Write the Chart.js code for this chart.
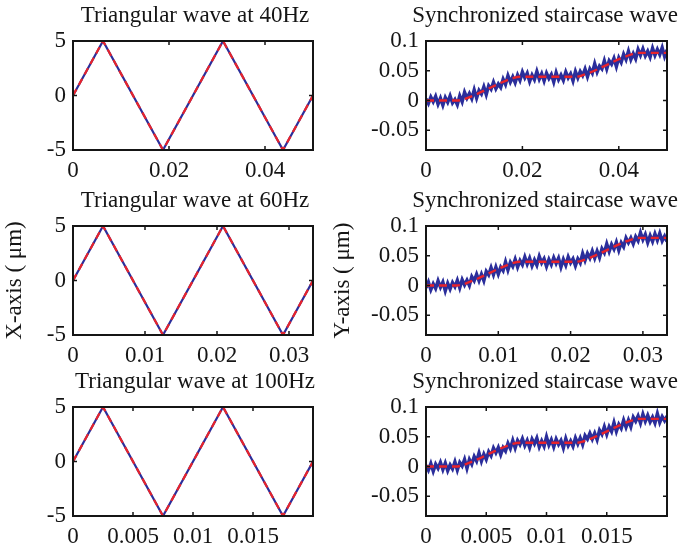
<!DOCTYPE html>
<html>
<head>
<meta charset="utf-8">
<title>Triangular wave / synchronized staircase wave</title>
<script src="https://cdn.jsdelivr.net/npm/chart.js"></script>
<style>
  html, body { margin: 0; padding: 0; background: #fff; overflow: hidden; }
  body { width: 679px; height: 550px; position: relative; }
  canvas { position: absolute; }
</style>
</head>
<body>
<canvas id="tri40" width="390" height="180" style="left:0;top:0"></canvas>
<canvas id="tri60" width="390" height="180" style="left:0;top:185px"></canvas>
<canvas id="tri100" width="390" height="180" style="left:0;top:366px"></canvas>
<canvas id="stair40" width="450" height="180" style="left:320px;top:0"></canvas>
<canvas id="stair60" width="450" height="180" style="left:320px;top:185px"></canvas>
<canvas id="stair100" width="450" height="180" style="left:320px;top:366px"></canvas>

<script>
const FONT = "'Liberation Serif', 'Times New Roman', serif";
const BLUE = '#2b2e9b';
const RED = '#e8232b';
const INK = '#151515';

// triangular command waves (vertices)
const tri40T = [0, 0.00625, 0.01875, 0.03125, 0.04375, 0.05];
const tri60T = [0, 0.0041667, 0.0125, 0.0208333, 0.0291667, 0.0333333];
const tri100T = [0, 0.0025, 0.0075, 0.0125, 0.0175, 0.02];
const triV = [0, 5, -5, 5, -5, 0];

// staircase reference (red dashed)
const stair40T = [0, 0.0064, 0.0077, 0.0182, 0.0195, 0.031, 0.0323, 0.0428, 0.0441, 0.05];
const stair60T = [0, 0.0042, 0.0051, 0.0121, 0.013, 0.0207, 0.0216, 0.0286, 0.0295, 0.0333333];
const stair100T = [0, 0.0025, 0.003, 0.0072, 0.0078, 0.0125, 0.013, 0.0172, 0.0177, 0.02];
const stairRef = [0, 0, 0.002, 0.038, 0.04, 0.04, 0.042, 0.078, 0.08, 0.08];

// measured staircase (blue), one value per sample
const meas40Step = 0.0005;
const meas40 = [
  .003,-.005,.006,-.002,.007,-.006,.004,-.008,.005,-.003,
  .008,-.004,.002,-.007,.008,-.002,.014,.004,.012,.003,
  .018,.004,.017,.011,.023,.010,.025,.019,.031,.020,
  .028,.022,.036,.027,.042,.031,.040,.030,.043,.034,
  .048,.038,.046,.032,.043,.035,.049,.036,.045,.033,
  .046,.037,.044,.031,.047,.035,.043,.034,.048,.038,
  .045,.033,.049,.038,.049,.042,.053,.040,.053,.046,
  .062,.048,.058,.053,.067,.053,.067,.061,.071,.057,
  .072,.064,.078,.069,.083,.069,.079,.070,.086,.076,
  .087,.075,.083,.073,.088,.076,.086,.077,.089,.074,
  .085
];
const meas60Step = 0.000333333;
const meas60 = [
  -.004,.006,-.007,.003,-.005,.008,-.003,.006,-.009,.004,
  -.006,.005,-.002,.009,-.004,.010,.001,.009,.000,.015,
  .008,.019,.008,.019,.008,.024,.018,.030,.018,.031,
  .019,.031,.025,.040,.026,.039,.032,.044,.031,.042,
  .035,.048,.036,.046,.033,.043,.034,.049,.038,.045,
  .032,.044,.035,.047,.037,.046,.031,.044,.034,.048,
  .038,.045,.033,.045,.038,.054,.042,.054,.046,.058,
  .046,.058,.047,.062,.055,.070,.057,.069,.061,.073,
  .059,.072,.065,.080,.072,.080,.070,.082,.075,.089,
  .077,.086,.072,.084,.074,.087,.076,.088,.075,.083,
  .074
];
const meas100Step = 0.0002;
const meas100 = [
  .002,-.006,.005,-.008,.004,-.003,.007,-.005,.006,-.007,
  .003,-.004,.008,-.006,.007,.001,.012,-.003,.012,.004,
  .017,.009,.023,.009,.021,.012,.025,.018,.031,.023,
  .032,.020,.032,.026,.039,.030,.044,.031,.044,.037,
  .047,.035,.044,.032,.046,.038,.048,.033,.043,.034,
  .050,.036,.045,.033,.046,.037,.044,.031,.047,.035,
  .043,.034,.048,.038,.048,.037,.052,.046,.056,.046,
  .056,.045,.061,.054,.067,.054,.067,.059,.074,.059,
  .071,.064,.078,.066,.078,.067,.083,.076,.085,.073,
  .088,.076,.086,.075,.083,.073,.089,.074,.084,.077,
  .085
];

// ticks
const triTicksY = [-5, 0, 5];
const triTickLabelsY = ['-5', '0', '5'];
const stairTicksY = [-0.05, 0, 0.05, 0.1];
const stairTickLabelsY = ['-0.05', '0', '0.05', '0.1'];
const ticks40 = [0, 0.02, 0.04];
const tickLabels40 = ['0', '0.02', '0.04'];
const ticks60 = [0, 0.01, 0.02, 0.03];
const tickLabels60 = ['0', '0.01', '0.02', '0.03'];
const ticks100 = [0, 0.005, 0.01, 0.015];
const tickLabels100 = ['0', '0.005', '0.01', '0.015'];

const pts = (xs, ys) => xs.map((x, i) => ({ x, y: ys[i] }));
const sampled = (step, ys) => ys.map((y, i) => ({ x: i * step, y }));

// matlab style box with inward ticks
const boxPlugin = {
  id: 'mbox',
  afterDatasetsDraw(chart) {
    const { ctx, chartArea: a, scales: { x, y } } = chart;
    ctx.save();
    ctx.strokeStyle = INK;
    ctx.lineWidth = 1.5;
    ctx.beginPath();
    x.ticks.forEach(t => {
      const px = x.getPixelForValue(t.value);
      ctx.moveTo(px, a.bottom); ctx.lineTo(px, a.bottom - 4);
      ctx.moveTo(px, a.top); ctx.lineTo(px, a.top + 4);
    });
    y.ticks.forEach(t => {
      const py = y.getPixelForValue(t.value);
      ctx.moveTo(a.left, py); ctx.lineTo(a.left + 4, py);
      ctx.moveTo(a.right, py); ctx.lineTo(a.right - 4, py);
    });
    ctx.stroke();
    ctx.lineWidth = 2;
    ctx.strokeRect(a.left, a.top, a.right - a.left, a.bottom - a.top);
    ctx.restore();
  }
};

function makeChart(id, o) {
  new Chart(document.getElementById(id), {
    type: 'line',
    data: { datasets: o.datasets },
    options: {
      responsive: false,
      animation: false,
      events: [],
      layout: { padding: 0 },
      elements: { point: { radius: 0 } },
      plugins: {
        legend: { display: false },
        tooltip: { enabled: false },
        title: {
          display: true,
          text: o.title,
          color: INK,
          font: { family: FONT, size: 23, weight: 'normal' },
          padding: { top: 2.2, bottom: 11.2 }
        }
      },
      scales: {
        x: {
          type: 'linear',
          min: 0,
          max: o.xMax,
          grid: { display: false, drawTicks: false },
          border: { display: false },
          afterBuildTicks: s => { s.ticks = o.xTicks.map(v => ({ value: v })); },
          afterFit: s => { s.height = 30; },
          ticks: {
            padding: 7, autoSkip: false, maxRotation: 0, color: INK,
            font: { family: FONT, size: 23 },
            callback: (v, i) => o.xLabels[i]
          }
        },
        y: {
          type: 'linear',
          min: o.yMin,
          max: o.yMax,
          grid: { display: false, drawTicks: false },
          border: { display: false },
          afterBuildTicks: s => { s.ticks = o.yTicks.map(v => ({ value: v })); },
          afterFit: s => { s.width = o.yWidth; },
          title: {
            display: !!o.yTitle,
            text: o.yTitle || '',
            color: INK,
            font: { family: FONT, size: 23 },
            padding: { top: o.yTitlePad || 0, bottom: 0 }
          },
          ticks: {
            padding: 7, autoSkip: false, color: INK,
            font: { family: FONT, size: 23 },
            callback: (v, i) => o.yLabels[i]
          }
        },
        // empty right-hand box so the title centres over the plot
        spacer: {
          type: 'linear',
          position: 'right',
          grid: { display: false, drawTicks: false },
          border: { display: false },
          ticks: { display: false },
          afterFit: s => { s.width = o.padRight; }
        }
      }
    },
    plugins: [boxPlugin]
  });
}

function triSets(t) {
  return [
    { data: pts(t, triV), borderColor: RED, borderWidth: 2.2, borderDash: [7, 5], order: 0 },
    { data: pts(t, triV), borderColor: BLUE, borderWidth: 2.2, order: 1 }
  ];
}
function stairSets(t, step, meas) {
  return [
    { data: pts(t, stairRef), borderColor: RED, borderWidth: 2.4, borderDash: [8, 5],
      cubicInterpolationMode: 'monotone', order: 0 },
    { data: sampled(step, meas), borderColor: BLUE, borderWidth: 3.4, order: 1 }
  ];
}

const triCommon = { yMin: -5, yMax: 5, yTicks: triTicksY, yLabels: triTickLabelsY, yWidth: 73, padRight: 77 };
const stairCommon = { yMin: -0.083, yMax: 0.1, yTicks: stairTicksY, yLabels: stairTickLabelsY, yWidth: 106, padRight: 103 };

makeChart('tri40', Object.assign({}, triCommon, {
  title: 'Triangular wave at 40Hz', xMax: 0.05, xTicks: ticks40, xLabels: tickLabels40,
  datasets: triSets(tri40T)
}));
makeChart('tri60', Object.assign({}, triCommon, {
  title: 'Triangular wave at 60Hz', xMax: 0.0333333, xTicks: ticks60, xLabels: tickLabels60,
  yTitle: 'X-axis ( μm)', yTitlePad: 1.5,
  datasets: triSets(tri60T)
}));
makeChart('tri100', Object.assign({}, triCommon, {
  title: 'Triangular wave at 100Hz', xMax: 0.02, xTicks: ticks100, xLabels: tickLabels100,
  datasets: triSets(tri100T)
}));
makeChart('stair40', Object.assign({}, stairCommon, {
  title: 'Synchronized staircase wave', xMax: 0.05, xTicks: ticks40, xLabels: tickLabels40,
  datasets: stairSets(stair40T, meas40Step, meas40)
}));
makeChart('stair60', Object.assign({}, stairCommon, {
  title: 'Synchronized staircase wave', xMax: 0.0333333, xTicks: ticks60, xLabels: tickLabels60,
  yTitle: 'Y-axis ( μm)', yTitlePad: 9.5,
  datasets: stairSets(stair60T, meas60Step, meas60)
}));
makeChart('stair100', Object.assign({}, stairCommon, {
  title: 'Synchronized staircase wave', xMax: 0.02, xTicks: ticks100, xLabels: tickLabels100,
  datasets: stairSets(stair100T, meas100Step, meas100)
}));
</script>
</body>
</html>
